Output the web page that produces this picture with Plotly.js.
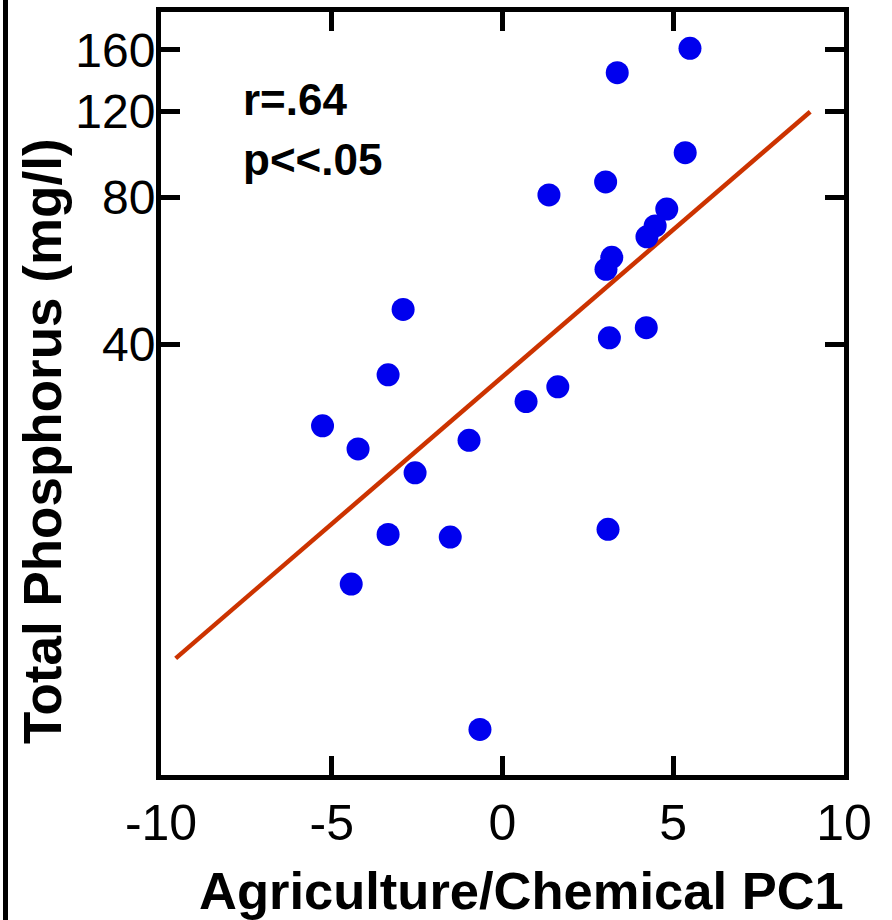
<!DOCTYPE html>
<html>
<head>
<meta charset="utf-8">
<script src="https://cdn.plot.ly/plotly-3.0.1.min.js"></script>
<style>html,body{margin:0;padding:0;background:#fff;}#chart{width:892px;height:920px;}</style>
</head>
<body>
<div id="chart"></div>
<script>
// Agriculture/Chemical PC1 scores
var pcScores = [5.49, 3.36, 5.35, 3.02, 1.36, 4.81, 4.47, 4.23, 3.20, 3.03,
                -2.91, 4.21, 3.13, -3.35, 1.62, 0.69, -5.27, -0.98, -4.23, -2.56,
                3.09, -3.35, -1.53, -4.43, -0.66];
// Total phosphorus (mg/l)
var totalP = [161.3, 143.8, 98.6, 85.9, 80.8, 75.6, 69.8, 66.3, 60.2, 56.9,
              47.1, 43.2, 41.2, 34.6, 32.7, 30.5, 27.2, 25.4, 24.4, 21.8,
              16.7, 16.3, 16.1, 12.9, 6.5];
// Fitted regression line end points
var fitX = [-9.57, 9.01];
var fitY = [9.09, 119.6];
// Tick values / labels
var xTicks = [-10, -5, 0, 5, 10];
var yTicks = [40, 80, 120, 160];
var yTickText = ['40', '80', '120', '160'];
var statLines = ['r=.64', 'p<<.05'];
var xTitle = 'Agriculture/Chemical PC1';
var yTitle = 'Total Phosphorus (mg/l)';

var FONT = 'Liberation Sans, Arial, Helvetica, sans-serif';

var traces = [
  {
    x: fitX, y: fitY, type: 'scatter', mode: 'lines',
    line: {color: '#cc3300', width: 4.5}, hoverinfo: 'skip', showlegend: false
  },
  {
    x: pcScores, y: totalP, type: 'scatter', mode: 'markers',
    marker: {color: '#0000ee', size: 23, line: {width: 0}}, showlegend: false
  }
];

var W = 892, H = 920, L = 161, R = 48, T = 12, B = 145;
var pw = W - L - R, ph = H - T - B;
function px(x) { return (x - L) / pw; }
function py(y) { return (H - B - y) / ph; }

function esc(s) { return s.replace(/</g, '&lt;'); }

var layout = {
  width: W, height: H,
  margin: {l: L, r: R, t: T, b: B, pad: 0},
  paper_bgcolor: '#ffffff', plot_bgcolor: '#ffffff',
  font: {family: FONT, color: '#000000'},
  showlegend: false,
  xaxis: {
    range: [-10, 10], tickvals: xTicks, ticktext: xTicks.map(String),
    showgrid: false, zeroline: false,
    showline: true, linecolor: '#000', linewidth: 5, mirror: 'ticks',
    ticks: 'inside', ticklen: 19, tickwidth: 5, tickcolor: '#000',
    tickfont: {size: 50, family: FONT, color: '#000'}
  },
  yaxis: {
    type: 'log', range: [0.7197, 2.2819], tickvals: yTicks, ticktext: yTickText,
    showgrid: false, zeroline: false,
    showline: true, linecolor: '#000', linewidth: 5, mirror: 'ticks',
    ticks: 'inside', ticklen: 19, tickwidth: 5, tickcolor: '#000',
    ticklabelstandoff: -9,
    tickfont: {size: 48, family: FONT, color: '#000'}
  },
  annotations: [
    {xref: 'paper', yref: 'paper', x: px(241), y: py(100), xanchor: 'left', yanchor: 'middle',
     text: '<b>' + esc(statLines[0]) + '</b>', showarrow: false, font: {size: 44, family: FONT, color: '#000'}},
    {xref: 'paper', yref: 'paper', x: px(241), y: py(160), xanchor: 'left', yanchor: 'middle',
     text: '<b>' + esc(statLines[1]) + '</b>', showarrow: false, font: {size: 44, family: FONT, color: '#000'}},
    {xref: 'paper', yref: 'paper', x: px(521), y: py(890), xanchor: 'center', yanchor: 'middle',
     text: '<b>' + esc(xTitle) + '</b>', showarrow: false, font: {size: 52.5, family: FONT, color: '#000'}},
    {xref: 'paper', yref: 'paper', x: px(42), y: py(441), xanchor: 'center', yanchor: 'middle', textangle: -90,
     text: '<b>' + esc(yTitle) + '</b>', showarrow: false, font: {size: 53, family: FONT, color: '#000'}}
  ],
  shapes: [
    {type: 'line', xref: 'paper', yref: 'paper',
     x0: px(5.5), x1: px(5.5), y0: py(H + 5), y1: py(-5),
     line: {color: '#000', width: 5}}
  ]
};

Plotly.newPlot('chart', traces, layout, {displayModeBar: false, staticPlot: true});
</script>
</body>
</html>
